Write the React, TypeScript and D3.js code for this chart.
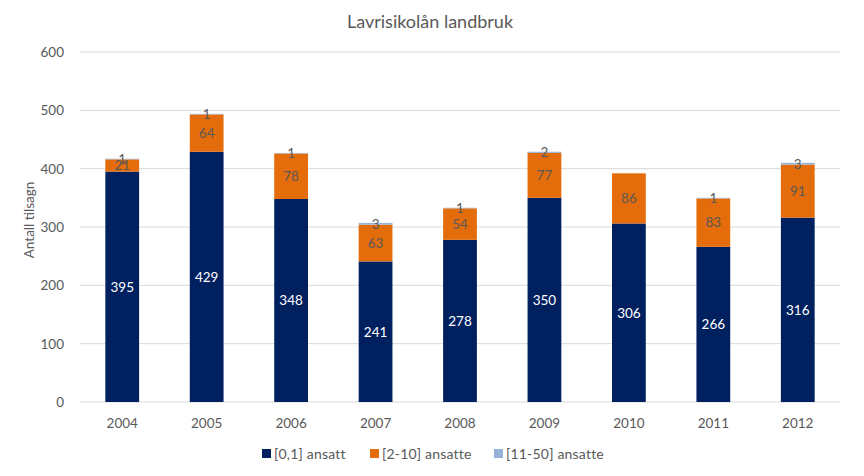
import React from "react";
import * as d3 from "d3";

const years = ["2004", "2005", "2006", "2007", "2008", "2009", "2010", "2011", "2012"];
const s01 = [395, 429, 348, 241, 278, 350, 306, 266, 316];
const s210 = [21, 64, 78, 63, 54, 77, 86, 83, 91];
const s1150 = [1, 1, 1, 3, 1, 2, 0, 1, 3];
const seriesNames = ["[0,1] ansatt", "[2-10] ansatte", "[11-50] ansatte"];
const colors = ["#002060", "#E46C0A", "#95B3D7"];
const labelColors = ["#ffffff", "#595959", "#595959"];
const yTicks = [0, 100, 200, 300, 400, 500, 600];

const W = 864, H = 476;
const left = 80, right = 840, top = 52, bottom = 402;
const font = "Lato, 'Open Sans', sans-serif";

export default function App() {
  const x = d3.scaleBand().domain(years).range([left, right]).padding(0);
  const y = d3.scaleLinear().domain([0, 600]).range([bottom, top]);
  const bw = x.bandwidth() * 0.4;
  const data = years.map((yr, i) => ({ yr, a: s01[i], b: s210[i], c: s1150[i] }));
  const stack = d3.stack<any>().keys(["a", "b", "c"])(data);

  return (
    <svg width={W} height={H} style={{ display: "block", position: "absolute", left: 0, top: 0, background: "#fff" }} fontFamily={font}>
      <rect width={W} height={H} fill="#fff" />
      <text x={430} y={28} textAnchor="middle" fontSize={18} fill="#595959">Lavrisikolån landbruk</text>
      {yTicks.map((t) => (
        <g key={t}>
          <line x1={left} x2={right} y1={y(t)} y2={y(t)} stroke="#d9d9d9" strokeWidth={1} />
          <text x={left - 16} y={y(t)} dy="0.36em" textAnchor="end" fontSize={13.5} fill="#595959">{t}</text>
        </g>
      ))}
      <text transform={`translate(34,${220}) rotate(-90)`} textAnchor="middle" fontSize={13.5} fill="#595959">Antall tilsagn</text>
      {stack.map((layer, si) => (
        <g key={si}>
          {layer.map((d, i) => {
            const x0 = (x(years[i]) as number) + x.bandwidth() / 2 - bw / 2;
            return (
              <rect key={i} x={x0} y={y(d[1])} width={bw} height={y(d[0]) - y(d[1])} fill={colors[si]} />
            );
          })}
        </g>
      ))}
      {stack.map((layer, si) => (
        <g key={"l" + si}>
          {layer.map((d, i) => {
            const v = d[1] - d[0];
            if (v === 0) return null;
            const cx = (x(years[i]) as number) + x.bandwidth() / 2;
            return (
              <text key={i} x={cx} y={y((d[0] + d[1]) / 2)} dy="0.36em" textAnchor="middle" fontSize={13.5} fill={labelColors[si]}>{v}</text>
            );
          })}
        </g>
      ))}
      {years.map((yr) => (
        <text key={yr} x={(x(yr) as number) + x.bandwidth() / 2} y={428} textAnchor="middle" fontSize={13.5} fill="#595959">{yr}</text>
      ))}
      {seriesNames.map((n, i) => {
        const lx = [262, 370, 494][i];
        return (
          <g key={n}>
            <rect x={lx} y={449} width={9} height={9} fill={colors[i]} />
            <text x={lx + 12} y={454} dy="0.36em" fontSize={14} letterSpacing={0.2} fill="#595959">{n}</text>
          </g>
        );
      })}
    </svg>
  );
}
